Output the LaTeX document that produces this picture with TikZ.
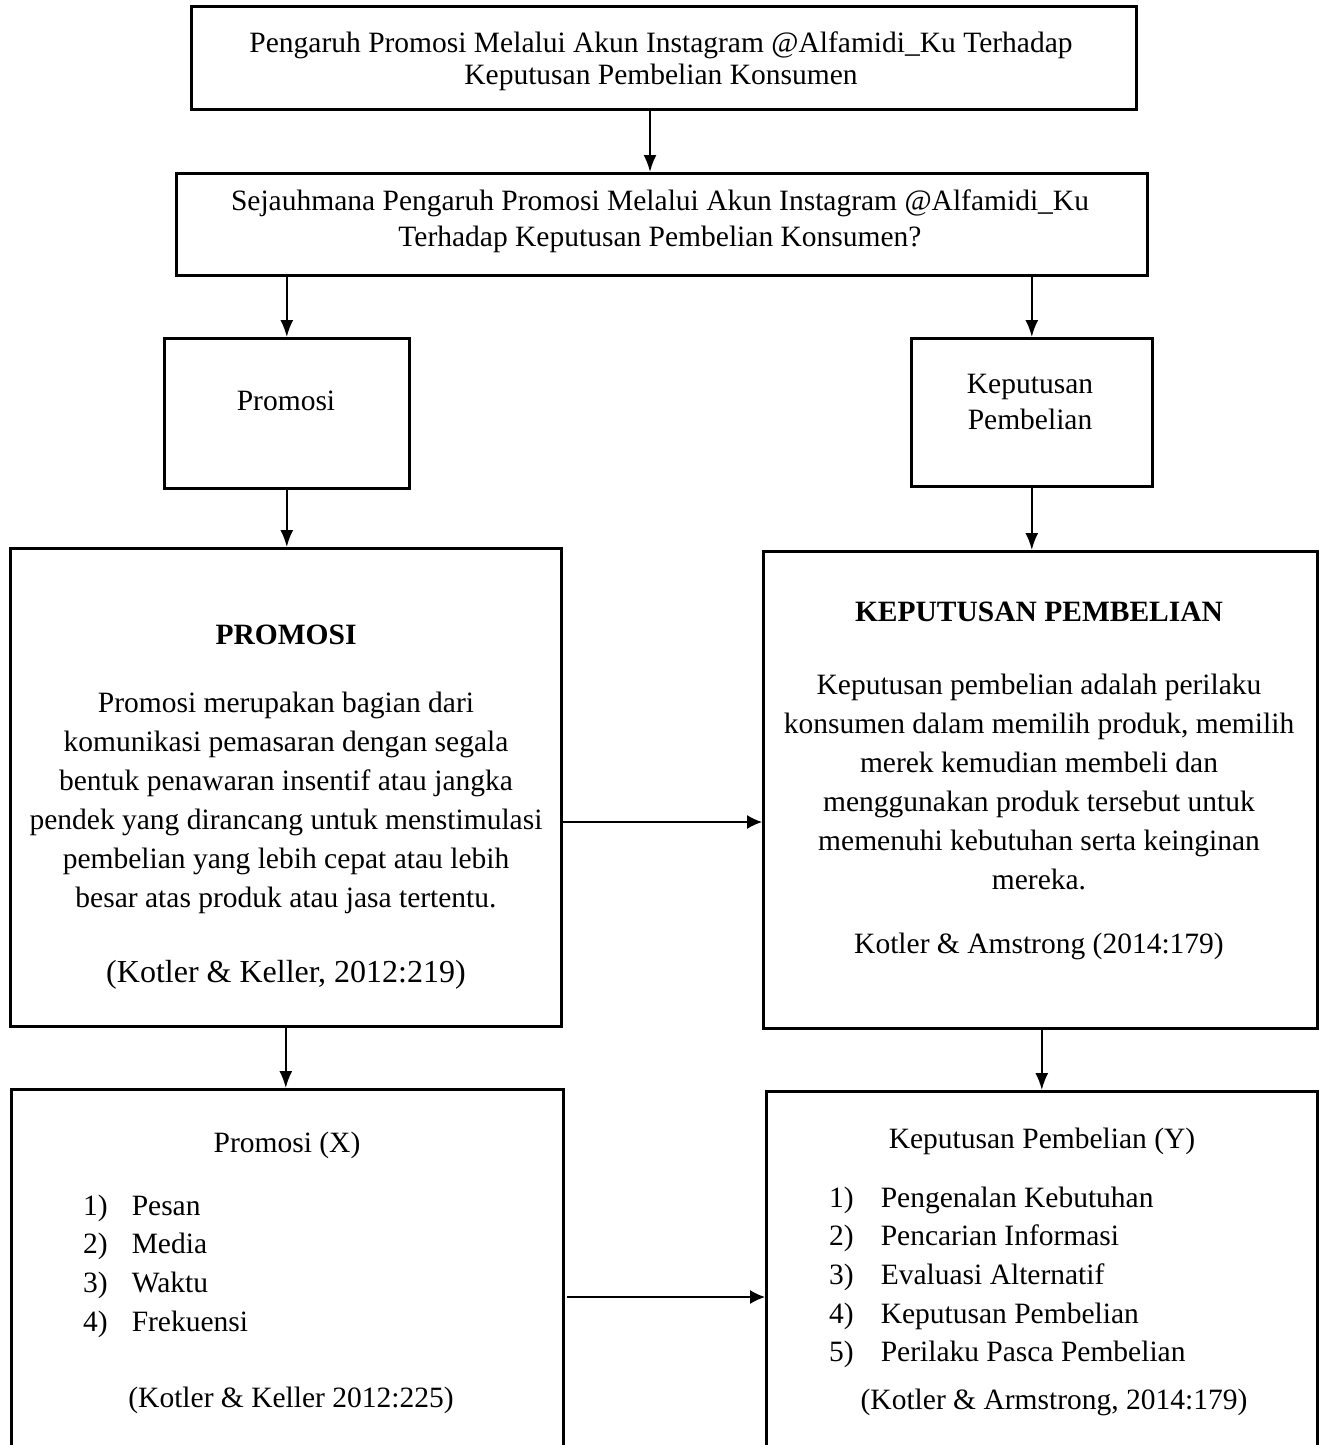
\documentclass[tikz,border=0pt]{standalone}
\usepackage{fontspec}
\setmainfont{Liberation Serif}
\usetikzlibrary{arrows.meta}
\begin{document}
\begin{tikzpicture}[x=1pt,y=-1pt,
  box/.style={draw=black,line width=2.6pt,inner sep=0pt,anchor=north west},
  txt/.style={align=center,inner sep=0pt,font=\fontsize{29.5}{32}\selectfont},
  bodytxt/.style={align=center,inner sep=0pt,font=\fontsize{29.5}{39}\selectfont},
  listtxt/.style={inner sep=0pt,anchor=north west,font=\fontsize{29.5}{38.6}\selectfont},
  arr/.style={line width=2pt,-{Latex[length=17pt,width=13pt]}},
  harr/.style={line width=1.4pt,-{Latex[length=15pt,width=14pt]}}]
\clip (0,0) rectangle (1327,1445);
\fill[white] (0,0) rectangle (1327,1445);
% boxes
\node[box,minimum width=945pt,minimum height=103pt] (b1) at (190,5) {};
\node[box,minimum width=971pt,minimum height=102pt] (b2) at (175,172) {};
\node[box,minimum width=245pt,minimum height=150pt] (b3) at (163,337) {};
\node[box,minimum width=241pt,minimum height=148pt] (b4) at (910,337) {};
\node[box,minimum width=551pt,minimum height=478pt] (b5) at (9,547) {};
\node[box,minimum width=554pt,minimum height=477pt] (b6) at (762,550) {};
\node[box,minimum width=552pt,minimum height=380pt] (b7) at (10,1088) {};
\node[box,minimum width=551pt,minimum height=380pt] (b8) at (765,1090) {};
% texts
\node[txt] (t1) at (661,61) {Pengaruh Promosi Melalui Akun Instagram @Alfamidi\_Ku Terhadap\\Keputusan Pembelian Konsumen};
\node[txt,font=\fontsize{29.5}{36}\selectfont] (t2) at (660,221) {Sejauhmana Pengaruh Promosi Melalui Akun Instagram @Alfamidi\_Ku\\Terhadap Keputusan Pembelian Konsumen?};
\node[txt] (t3) at (286,401) {Promosi};
\node[txt,font=\fontsize{29.5}{36}\selectfont] (t4) at (1030,402) {Keputusan\\Pembelian};
\node[txt] (t5h) at (286,635) {\bfseries PROMOSI};
\node[bodytxt] (t5) at (286,803) {Promosi merupakan bagian dari\\komunikasi pemasaran dengan segala\\bentuk penawaran insentif atau jangka\\pendek yang dirancang untuk menstimulasi\\pembelian yang lebih cepat atau lebih\\besar atas produk atau jasa tertentu.};
\node[txt,font=\fontsize{32}{36}\selectfont] (t5c) at (286,975) {(Kotler \& Keller, 2012:219)};
\node[txt] (t6h) at (1039,612) {\bfseries KEPUTUSAN PEMBELIAN};
\node[bodytxt] (t6) at (1039,782) {Keputusan pembelian adalah perilaku\\konsumen dalam memilih produk, memilih\\merek kemudian membeli dan\\menggunakan produk tersebut untuk\\memenuhi kebutuhan serta keinginan\\mereka.};
\node[txt] (t6c) at (1039,946) {Kotler \& Amstrong (2014:179)};
\node[txt] (t7h) at (287,1145) {Promosi (X)};
\node[listtxt] (t7l) at (83,1188) {\begin{tabular}{@{}l@{\hspace{24pt}}l@{}}1)&Pesan\\2)&Media\\3)&Waktu\\4)&Frekuensi\end{tabular}};
\node[txt] (t7c) at (291,1400) {(Kotler \& Keller 2012:225)};
\node[txt] (t8h) at (1042,1141) {Keputusan Pembelian (Y)};
\node[listtxt] (t8l) at (829,1180) {\begin{tabular}{@{}l@{\hspace{27pt}}l@{}}1)&Pengenalan Kebutuhan\\2)&Pencarian Informasi\\3)&Evaluasi Alternatif\\4)&Keputusan Pembelian\\5)&Perilaku Pasca Pembelian\end{tabular}};
\node[txt] (t8c) at (1054,1402) {(Kotler \& Armstrong, 2014:179)};
% connectors
\coordinate (a0) at (650,108);
\draw[arr] (a0) -- (a0 |- b2.north);
\draw[arr] (b3.north |- b2.south) -- (b3.north);
\draw[arr] (b4.north |- b2.south) -- (b4.north);
\draw[arr] (b3.south) -- (b3.south |- b5.north);
\draw[arr] (b4.south) -- (b4.south |- b6.north);
\draw[arr] (b5.south) -- (b5.south |- b7.north);
\draw[arr] (b8.north |- b6.south) -- (b8.north);
\coordinate (h1) at (562,822);
\draw[harr] (h1) -- (h1 -| b6.west);
\coordinate (h2) at (567,1297);
\draw[harr] (h2) -- (h2 -| b8.west);
\end{tikzpicture}
\end{document}
